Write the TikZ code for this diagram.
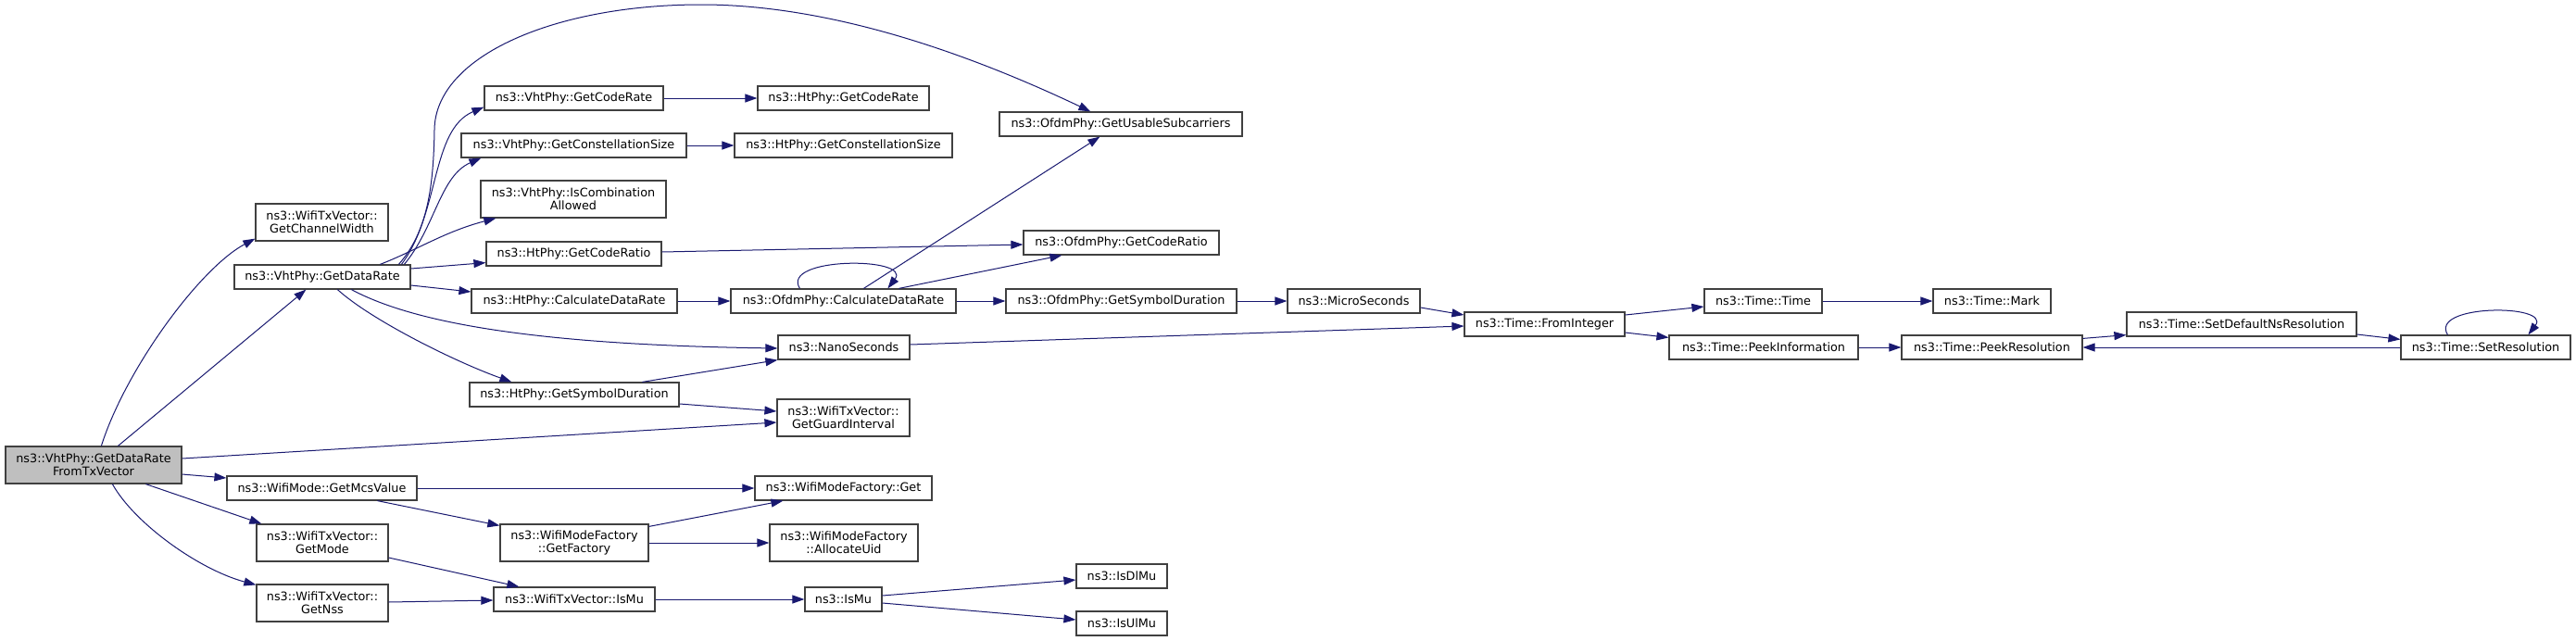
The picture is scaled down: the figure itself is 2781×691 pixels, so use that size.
\documentclass[tikz,border=0pt]{standalone}
\usepackage{fontspec}
\setmainfont{DejaVu Sans}
\usetikzlibrary{arrows.meta,calc}
\definecolor{edgeblue}{HTML}{191970}
\definecolor{bordergray}{HTML}{404040}
\definecolor{rootgray}{HTML}{BFBFBF}
\begin{document}
\begin{tikzpicture}[x=1pt,y=-1pt,
  bx/.style={draw=bordergray, line width=1.2pt, fill=white, inner sep=0pt,
    align=center, font=\fontsize{12.8}{14}\selectfont, minimum height=26pt},
  bxx/.style={bx, minimum height=40pt},
  e/.style={draw=edgeblue, line width=1pt, -{Triangle[length=13pt,width=9pt]}}]
\fill[white] (0,0) rectangle (2781,691);
\useasboundingbox (0,0) rectangle (2781,691);
% nodes
\node[bxx, fill=rootgray, minimum width=190pt] (root) at (101,502) {ns3::VhtPhy::GetDataRate\\FromTxVector};
\node[bxx, minimum width=143pt] (cw) at (347.5,240) {ns3::WifiTxVector::\\GetChannelWidth};
\node[bx, minimum width=190pt] (dr) at (348,299) {ns3::VhtPhy::GetDataRate};
\node[bx, minimum width=205pt] (mcs) at (347.5,527) {ns3::WifiMode::GetMcsValue};
\node[bxx, minimum width=142pt] (gm) at (348,586) {ns3::WifiTxVector::\\GetMode};
\node[bxx, minimum width=142pt] (gn) at (348,651) {ns3::WifiTxVector::\\GetNss};
\node[bx, minimum width=193pt] (vcr) at (619.5,106) {ns3::VhtPhy::GetCodeRate};
\node[bx, minimum width=243pt] (vcs) at (619.5,157) {ns3::VhtPhy::GetConstellationSize};
\node[bxx, minimum width=200pt] (ica) at (619,215) {ns3::VhtPhy::IsCombination\\Allowed};
\node[bx, minimum width=189pt] (hcr) at (619.5,274) {ns3::HtPhy::GetCodeRatio};
\node[bx, minimum width=222pt] (hcd) at (620,325) {ns3::HtPhy::CalculateDataRate};
\node[bx, minimum width=226pt] (hsd) at (620,426) {ns3::HtPhy::GetSymbolDuration};
\node[bxx, minimum width=160pt] (gf) at (620,586) {ns3::WifiModeFactory\\::GetFactory};
\node[bx, minimum width=174pt] (tmu) at (620,647) {ns3::WifiTxVector::IsMu};
\node[bx, minimum width=185pt] (hgcr) at (910.5,106) {ns3::HtPhy::GetCodeRate};
\node[bx, minimum width=235pt] (hgcs) at (910.5,157) {ns3::HtPhy::GetConstellationSize};
\node[bx, minimum width=243pt] (ocd) at (910.5,325) {ns3::OfdmPhy::CalculateDataRate};
\node[bx, minimum width=142pt] (ns) at (911,375) {ns3::NanoSeconds};
\node[bxx, minimum width=143pt] (gi) at (910.5,451) {ns3::WifiTxVector::\\GetGuardInterval};
\node[bx, minimum width=191pt] (mfg) at (910.5,527) {ns3::WifiModeFactory::Get};
\node[bxx, minimum width=160pt] (au) at (911,586) {ns3::WifiModeFactory\\::AllocateUid};
\node[bx, minimum width=83pt] (ismu) at (910.5,647) {ns3::IsMu};
\node[bx, minimum width=262pt] (us) at (1210,134) {ns3::OfdmPhy::GetUsableSubcarriers};
\node[bx, minimum width=211pt] (ocr) at (1210.5,262) {ns3::OfdmPhy::GetCodeRatio};
\node[bx, minimum width=249pt] (osd) at (1210.5,325) {ns3::OfdmPhy::GetSymbolDuration};
\node[bx, minimum width=98pt] (dl) at (1211,622) {ns3::IsDlMu};
\node[bx, minimum width=98pt] (ul) at (1211,673) {ns3::IsUlMu};
\node[bx, minimum width=143pt] (mu) at (1461.5,325) {ns3::MicroSeconds};
\node[bx, minimum width=173pt] (fi) at (1667.5,350) {ns3::Time::FromInteger};
\node[bx, minimum width=127pt] (tt) at (1903.5,325) {ns3::Time::Time};
\node[bx, minimum width=204pt] (pi) at (1904,375) {ns3::Time::PeekInformation};
\node[bx, minimum width=127pt] (mk) at (2150.5,325) {ns3::Time::Mark};
\node[bx, minimum width=195pt] (pr) at (2150.5,375) {ns3::Time::PeekResolution};
\node[bx, minimum width=248pt] (sd) at (2420,350) {ns3::Time::SetDefaultNsResolution};
\node[bx, minimum width=183pt] (sr) at (2683.5,375) {ns3::Time::SetResolution};
% edges from root
\draw[e] ($(root.north west)+(104,0)$) .. controls (135,400) and (215,290) .. ($(cw.south west)+(0,-3)$);
\draw[e] ($(root.north west)+(122,0)$) -- ($(dr.south west)+(78,0)$);
\draw[e] ($(root.east)+(0,-7)$) -- ($(gi.west)+(0,5)$);
\draw[e] ($(root.east)+(0,10)$) -- ($(mcs.west)+(0,-11)$);
\draw[e] ($(root.south west)+(152,0)$) -- ($(gm.north west)+(6,0)$);
\draw[e] ($(root.south west)+(116,0)$) .. controls (145,565) and (215,615) .. ($(gn.north west)+(0,1)$);
% edges from GetDataRate
\draw[e] ($(dr.north west)+(178,0)$) .. controls (462,250) and (468,200) .. (469,140)
  .. controls (470,60) and (600,5) .. (757,5)
  .. controls (900,5) and (1050,60) .. ($(us.north west)+(99,0)$);
\draw[e] ($(dr.north west)+(181,0)$) .. controls (475,230) and (465,140) .. ($(vcr.south west)+(0,-4)$);
\draw[e] ($(dr.north west)+(184,0)$) .. controls (470,245) and (475,190) .. ($(vcs.south west)+(22,0)$);
\draw[e] ($(dr.north west)+(158,0)$) .. controls (450,270) and (480,250) .. ($(ica.south west)+(17,0)$);
\draw[e] ($(dr.east)+(0,-9)$) -- ($(hcr.south west)+(0,-4)$);
\draw[e] ($(dr.east)+(0,9)$) -- ($(hcd.west)+(0,-10)$);
\draw[e] ($(dr.south west)+(127,0)$) .. controls (440,345) and (560,372) .. ($(ns.west)+(0,1)$);
\draw[e] ($(dr.south west)+(112,0)$) .. controls (400,345) and (490,390) .. ($(hsd.north west)+(46,0)$);
% second column onwards
\draw[e] (vcr.east) -- (hgcr.west);
\draw[e] (vcs.east) -- (hgcs.west);
\draw[e] ($(hcr.east)+(0,-2)$) -- ($(ocr.west)+(0,2)$);
\draw[e] (hcd.east) -- (ocd.west);
\draw[e] ($(ocd.north west)+(144,0)$) -- ($(us.south west)+(109,0)$);
\draw[e] ($(ocd.north west)+(182,0)$) -- ($(ocr.south west)+(42,0)$);
\draw[e] ($(ocd.north west)+(75,0)$) .. controls (842,277) and (985,277) .. ($(ocd.north west)+(170,0)$);
\draw[e] (ocd.east) -- (osd.west);
\draw[e] (osd.east) -- (mu.west);
\draw[e] ($(mu.east)+(0,7)$) -- ($(fi.west)+(0,-10)$);
\draw[e] ($(hsd.north west)+(187,0)$) -- (ns.south west);
\draw[e] ($(hsd.east)+(0,10)$) -- ($(gi.west)+(0,-7)$);
\draw[e] ($(ns.east)+(0,-3)$) -- ($(fi.west)+(0,2)$);
\draw[e] (mcs.east) -- (mfg.west);
\draw[e] ($(mcs.south west)+(163,0)$) -- ($(gf.north west)+(0,2)$);
\draw[e] ($(gf.north east)+(0,3)$) -- ($(mfg.south west)+(31,0)$);
\draw[e] (gf.east) -- (au.west);
\draw[e] ($(gm.east)+(0,16)$) -- ($(tmu.north west)+(28,0)$);
\draw[e] ($(gn.east)+(0,-1)$) -- ($(tmu.west)+(0,1)$);
\draw[e] (tmu.east) -- (ismu.west);
\draw[e] ($(ismu.east)+(0,-4)$) -- ($(dl.west)+(0,4)$);
\draw[e] ($(ismu.east)+(0,4)$) -- ($(ul.west)+(0,-4)$);
% Time
\draw[e] ($(fi.east)+(0,-10)$) -- ($(tt.west)+(0,6)$);
\draw[e] ($(fi.east)+(0,9)$) -- ($(pi.north west)+(0,3)$);
\draw[e] (tt.east) -- (mk.west);
\draw[e] (pi.east) -- (pr.west);
\draw[e] ($(pr.north east)+(0,4)$) -- ($(sd.south west)+(0,-2)$);
\draw[e] ($(sd.east)+(0,11)$) -- ($(sr.north west)+(0,5)$);
\draw[e] (sr.west) -- (pr.east);
\draw[e] ($(sr.north west)+(51,0)$) .. controls (2622,328) and (2755,328) .. ($(sr.north west)+(138,0)$);
\end{tikzpicture}
\end{document}
